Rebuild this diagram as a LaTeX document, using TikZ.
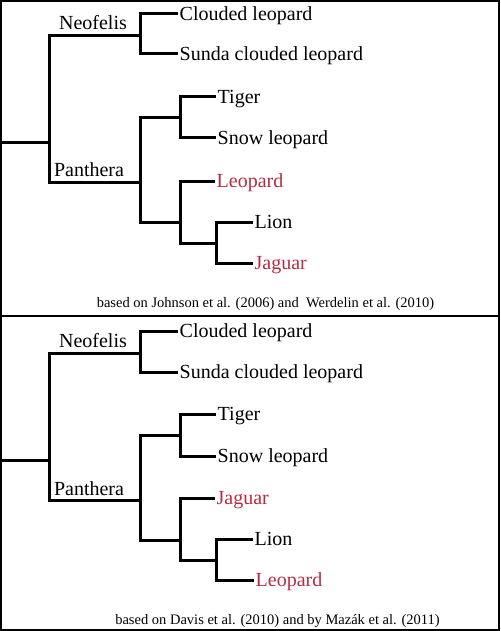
\documentclass[tikz,border=0pt]{standalone}
\usepackage{fontspec}
\setmainfont{Liberation Serif}
\definecolor{catred}{RGB}{183,44,66}
\begin{document}
\begin{tikzpicture}[x=1pt,y=-1pt,
  branch/.style={line width=3pt,line join=miter},
  leaf/.style={anchor=west,inner xsep=1.5pt,inner ysep=0pt,text height=13.2pt,text depth=0pt,font=\fontsize{20}{24}\selectfont},
  redleaf/.style={leaf,text=catred},
  clade/.style={anchor=base,inner sep=0pt,font=\fontsize{20}{24}\selectfont},
  caption/.style={anchor=base,inner sep=0pt,font=\fontsize{14.5}{17}\selectfont},
  frame/.style={line width=2pt}]
\useasboundingbox (0,0) rectangle (500,631);
\fill[white] (0,0) rectangle (500,631);
\draw[frame] (1,1) rectangle (498.5,629.5);
\coordinate (divl) at (1,316);
\coordinate (divr) at (498.5,316);
\draw[line width=2.5pt] (divl) -- (divr);

% ---------- top tree ----------
\coordinate (t0) at (0,143);
\coordinate (tR) at (49,143);
\coordinate (tN) at (140,36);
\coordinate (tP) at (140,182);
\coordinate (tTS) at (180,118);
\coordinate (tLLJ) at (180,222);
\coordinate (tLJ) at (216,243);
\node[leaf] (tC) at (178,14) {Clouded leopard};
\node[leaf] (tS) at (178,54) {Sunda clouded leopard};
\node[leaf] (tT) at (216,97) {Tiger};
\node[leaf] (tSn) at (216,138) {Snow leopard};
\node[redleaf] (tLe) at (215,181) {Leopard};
\node[leaf] (tLi) at (253,222) {Lion};
\node[redleaf] (tJa) at (253,263) {Jaguar};
\node[clade] (tNeo) at (93,30) {Neofelis};
\node[clade] (tPan) at (89,177) {Panthera};
\node[caption] (tcap) at (265.5,307.5) {based on Johnson et al. (2006) and\ \ Werdelin et al. (2010)};
\draw[branch] (t0) -- (tR);
\draw[branch] (tR) |- (tN);
\draw[branch] (tR) |- (tP);
\draw[branch] (tN) |- (tC.west);
\draw[branch] (tN) |- (tS.west);
\draw[branch] (tP) |- (tTS);
\draw[branch] (tP) |- (tLLJ);
\draw[branch] (tTS) |- (tT.west);
\draw[branch] (tTS) |- (tSn.west);
\draw[branch] (tLLJ) |- (tLe.west);
\draw[branch] (tLLJ) |- (tLJ);
\draw[branch] (tLJ) |- (tLi.west);
\draw[branch] (tLJ) |- (tJa.west);

% ---------- bottom tree ----------
\coordinate (b0) at (0,460);
\coordinate (bR) at (49,460);
\coordinate (bN) at (140,353);
\coordinate (bP) at (140,500);
\coordinate (bTS) at (180,435);
\coordinate (bJLL) at (180,540);
\coordinate (bLL) at (216,560);
\node[leaf] (bC) at (178,331) {Clouded leopard};
\node[leaf] (bS) at (178,372) {Sunda clouded leopard};
\node[leaf] (bT) at (216,414) {Tiger};
\node[leaf] (bSn) at (216,456) {Snow leopard};
\node[redleaf] (bJa) at (215,498) {Jaguar};
\node[leaf] (bLi) at (253,539) {Lion};
\node[redleaf] (bLe) at (254,580) {Leopard};
\node[clade] (bNeo) at (93,347) {Neofelis};
\node[clade] (bPan) at (89,495) {Panthera};
\node[caption] (bcap) at (277.5,624) {based on Davis et al. (2010) and by Mazák et al. (2011)};
\draw[branch] (b0) -- (bR);
\draw[branch] (bR) |- (bN);
\draw[branch] (bR) |- (bP);
\draw[branch] (bN) |- (bC.west);
\draw[branch] (bN) |- (bS.west);
\draw[branch] (bP) |- (bTS);
\draw[branch] (bP) |- (bJLL);
\draw[branch] (bTS) |- (bT.west);
\draw[branch] (bTS) |- (bSn.west);
\draw[branch] (bJLL) |- (bJa.west);
\draw[branch] (bJLL) |- (bLL);
\draw[branch] (bLL) |- (bLi.west);
\draw[branch] (bLL) |- (bLe.west);
\end{tikzpicture}
\end{document}
